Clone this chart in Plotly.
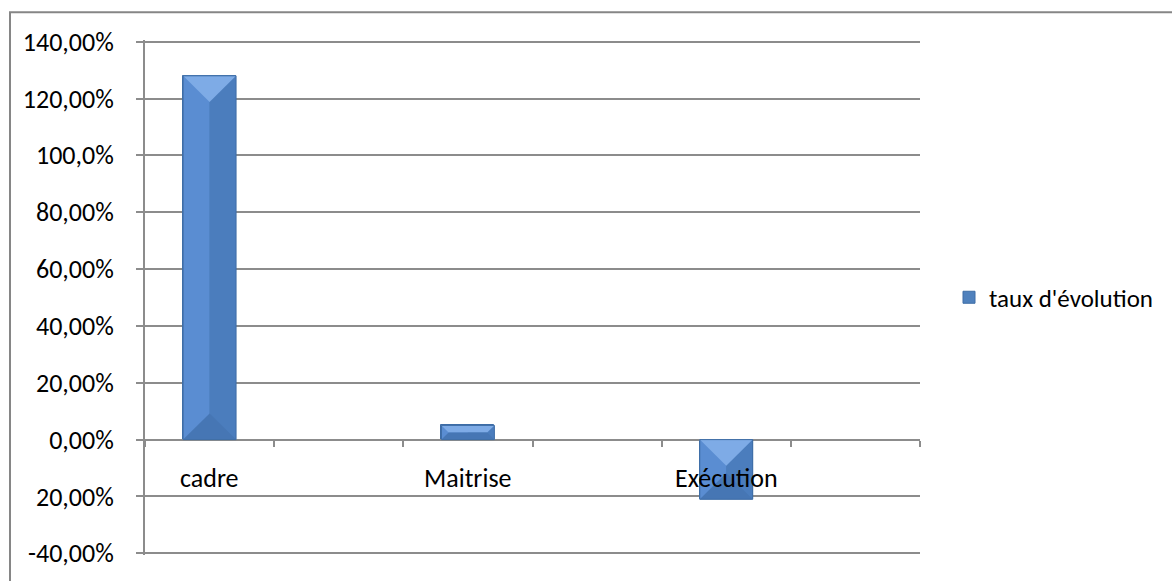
import plotly.graph_objects as go

# ---- data ----
categories = ["cadre", "Maitrise", "Exécution"]
series_name = "taux d'évolution"
values = [128.0, 5.0, -21.0]          # in %
y_tick_values = [140, 120, 100, 80, 60, 40, 20, 0, -20, -40]
y_tick_labels = ["140,00%", "120,00%", "100,0%", "80,00%", "60,00%",
                 "40,00%", "20,00%", "0,00%", "20,00%", "-40,00%"]

# ---- layout constants (styling) ----
W, H = 1172, 581
PAD = 0.6
XR = [0, 2 * len(categories)]
YR = [-40 - PAD, 140 + PAD]
BAR_W = 0.41
FONT = "Carlito, Calibri, Lato, sans-serif"
FS = 26
GRID = "#8C8C8C"

# plot area so that 140% sits at y=42px and -40% at y=559px
PX_PER_Y = (559 - 42) / 180.0
MT = int(round(42 - PAD * PX_PER_Y))
MB = int(round(H - 559 - PAD * PX_PER_Y))
ML, MR = 145, W - 920
PW, PH = W - ML - MR, H - MT - MB

xpos = [2 * i + 0.5 for i in range(len(categories))]

px_per_x = PW / (XR[1] - XR[0])
px_per_y = PH / (YR[1] - YR[0])

fig = go.Figure()
fig.add_trace(go.Bar(
    x=xpos, y=values, width=BAR_W, name=series_name,
    marker=dict(color="#4F81BD", line=dict(color="#3E6DA6", width=1)),
    showlegend=True,
))

shapes = []
for xc, v in zip(xpos, values):
    xl, xr = xc - BAR_W / 2, xc + BAR_W / 2
    top, bot = max(v, 0), min(v, 0)
    half_px = BAR_W * px_per_x / 2
    d_px = min(half_px, (top - bot) * px_per_y / 2)
    dy = d_px / px_per_y
    dx = d_px / px_per_x
    shapes.append(dict(type="path", xref="x", yref="y",
                       path=f"M{xl},{bot} L{xc},{bot} L{xc},{top} L{xl},{top} Z",
                       fillcolor="#5A8DD2", line=dict(width=0), layer="above"))
    shapes.append(dict(type="path", xref="x", yref="y",
                       path=f"M{xc},{bot} L{xr},{bot} L{xr},{top} L{xc},{top} Z",
                       fillcolor="#4B7DBD", line=dict(width=0), layer="above"))
    shapes.append(dict(type="path", xref="x", yref="y",
                       path=f"M{xl},{top} L{xr},{top} L{xr-dx},{top-dy} L{xl+dx},{top-dy} Z",
                       fillcolor="#7EABE6", line=dict(width=0), layer="above"))
    shapes.append(dict(type="path", xref="x", yref="y",
                       path=f"M{xl},{bot} L{xr},{bot} L{xr-dx},{bot+dy} L{xl+dx},{bot+dy} Z",
                       fillcolor="#4676B4", line=dict(width=0), layer="above"))
    shapes.append(dict(type="rect", xref="x", yref="y", x0=xl, x1=xr, y0=bot, y1=top,
                       line=dict(color="#3E6DA6", width=1), fillcolor="rgba(0,0,0,0)",
                       layer="above"))

# outer chart border (top and left visible)
shapes.append(dict(type="rect", xref="paper", yref="paper",
                   x0=(10 - ML) / PW, x1=(W + 20 - ML) / PW,
                   y0=-(MB + 20) / PH, y1=1 + (MT - 12) / PH,
                   line=dict(color="#868686", width=2), fillcolor="rgba(0,0,0,0)",
                   layer="below"))

zero_pos = (0 - YR[0]) / (YR[1] - YR[0])

annotations = [dict(x=xc, y=0, xref="x", yref="y", text=c, showarrow=False,
                    yshift=-38, font=dict(family=FONT, size=FS, color="#000000"))
               for xc, c in zip(xpos, categories)]

fig.update_layout(
    width=W, height=H,
    margin=dict(l=ML, r=MR, t=MT, b=MB),
    paper_bgcolor="white", plot_bgcolor="white",
    font=dict(family=FONT, size=FS, color="#000000"),
    shapes=shapes, annotations=annotations,
    bargap=0,
    xaxis=dict(range=XR, tickvals=list(range(XR[0], XR[1] + 1)), showticklabels=False,
               ticks="outside", ticklen=6, tickcolor=GRID, tickwidth=2,
               showgrid=False, zeroline=False, showline=True, linecolor=GRID, linewidth=2,
               anchor="free", position=zero_pos, fixedrange=True),
    yaxis=dict(range=YR, tickvals=y_tick_values, ticktext=y_tick_labels,
               ticks="outside", ticklen=7, tickcolor=GRID, tickwidth=2,
               showgrid=True, gridcolor=GRID, gridwidth=2,
               zeroline=False, showline=True, linecolor=GRID, linewidth=2,
               ticklabelstandoff=17, fixedrange=True),
    legend=dict(x=(949 - ML) / PW, y=0.5, xanchor="left", yanchor="middle",
                font=dict(family=FONT, size=FS - 1), itemwidth=30,
                bgcolor="rgba(0,0,0,0)"),
)

fig.write_html("out.html")
